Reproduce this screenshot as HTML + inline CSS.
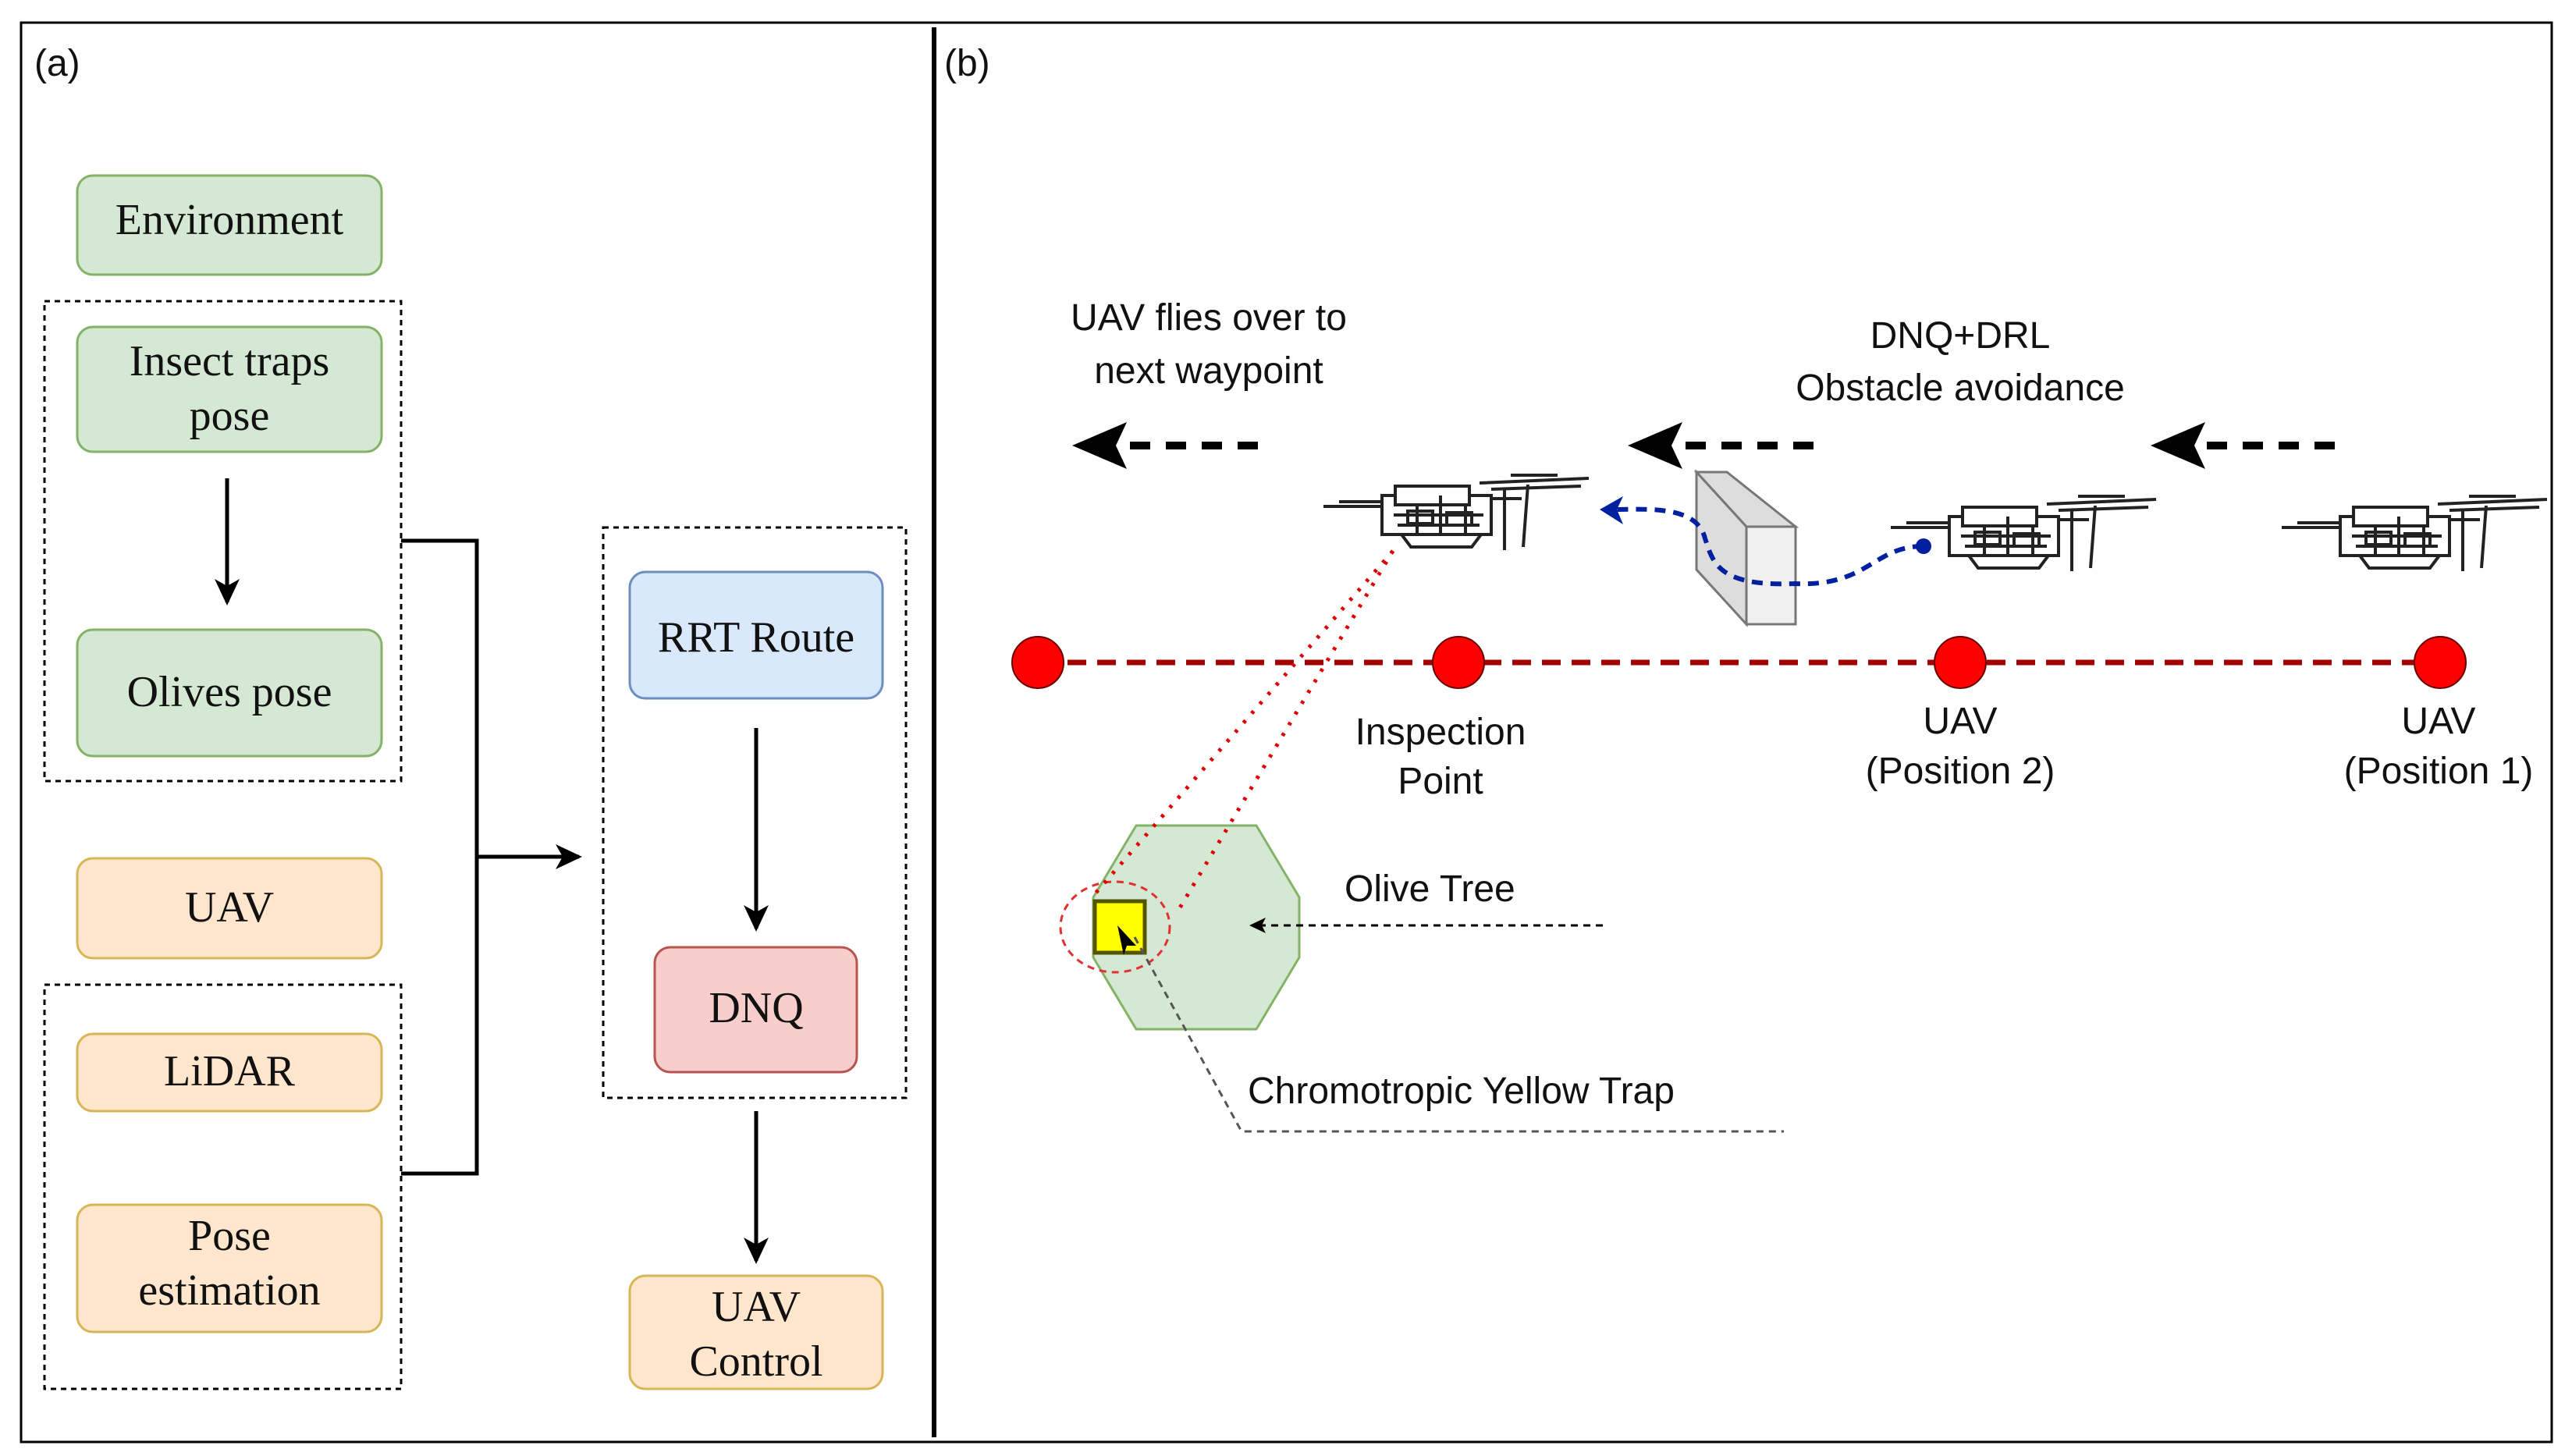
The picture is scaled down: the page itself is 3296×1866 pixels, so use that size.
<!DOCTYPE html>
<html><head><meta charset="utf-8"><style>
html,body{margin:0;padding:0;background:#fff;}
svg{display:block;}
.s{font-family:"Liberation Serif",serif;font-size:56px;fill:#111;}
.a{font-family:"Liberation Sans",sans-serif;font-size:48px;fill:#111;}
</style></head><body>
<svg width="3296" height="1866" viewBox="0 0 3296 1866" xmlns="http://www.w3.org/2000/svg">
<defs>
<marker id="ah" markerWidth="36" markerHeight="36" refX="30" refY="18" orient="auto" markerUnits="userSpaceOnUse" viewBox="0 0 36 36"><path d="M0,2 L34,18 L0,34 L9,18 z" fill="#000"/></marker>
<g id="drone" fill="none" stroke="#222" stroke-width="4">
 <path d="M0,44 L80,44 M20,38 L85,38"/>
 <path d="M200,14 L340,8 M215,22 L330,18 M240,4 L300,4"/>
 <rect x="75" y="30" width="140" height="50" fill="#fff"/>
 <rect x="92" y="18" width="95" height="24" fill="#fff"/>
 <path d="M100,80 L112,96 L190,96 L202,80 M150,30 L150,80 M120,42 L120,80 M182,42 L182,80 M232,22 L232,100 M262,16 L256,96 M214,34 L254,34 M90,55 L205,55 M95,68 L200,68"/>
 <rect x="108" y="50" width="32" height="16"/>
 <rect x="158" y="52" width="32" height="16"/>
</g>
</defs>
<rect x="27" y="29" width="3243" height="1819" fill="none" stroke="#000" stroke-width="3"/>
<line x1="1197" y1="35" x2="1197" y2="1842" stroke="#000" stroke-width="6"/>
<text x="44" y="97" class="a" font-size="58">(a)</text>
<text x="1210" y="97" class="a" font-size="58">(b)</text>

<g stroke-width="3">
<rect x="57" y="386" width="457" height="615" fill="none" stroke="#000" stroke-dasharray="7,6"/>
<rect x="57" y="1262" width="457" height="518" fill="none" stroke="#000" stroke-dasharray="7,6"/>
<rect x="773" y="676" width="388" height="731" fill="none" stroke="#000" stroke-dasharray="7,6"/>
<rect x="99" y="225" width="390" height="127" rx="20" fill="#d5e8d4" stroke="#82b366"/>
<rect x="99" y="419" width="390" height="160" rx="20" fill="#d5e8d4" stroke="#82b366"/>
<rect x="99" y="807" width="390" height="162" rx="20" fill="#d5e8d4" stroke="#82b366"/>
<rect x="99" y="1100" width="390" height="128" rx="20" fill="#ffe6cc" stroke="#d6b656"/>
<rect x="99" y="1325" width="390" height="99" rx="20" fill="#ffe6cc" stroke="#d6b656"/>
<rect x="99" y="1544" width="390" height="163" rx="20" fill="#ffe6cc" stroke="#d6b656"/>
<rect x="807" y="733" width="324" height="162" rx="20" fill="#dae8fc" stroke="#6c8ebf"/>
<rect x="839" y="1214" width="259" height="160" rx="20" fill="#f8cecc" stroke="#b85450"/>
<rect x="807" y="1635" width="324" height="145" rx="20" fill="#ffe6cc" stroke="#d6b656"/>
</g>
<g text-anchor="middle">
<text x="294" y="300" class="s">Environment</text>
<text x="294" y="481" class="s">Insect traps</text>
<text x="294" y="551" class="s">pose</text>
<text x="294" y="905" class="s">Olives pose</text>
<text x="294" y="1181" class="s">UAV</text>
<text x="294" y="1391" class="s">LiDAR</text>
<text x="294" y="1602" class="s">Pose</text>
<text x="294" y="1672" class="s">estimation</text>
<text x="969" y="835" class="s">RRT Route</text>
<text x="969" y="1310" class="s">DNQ</text>
<text x="969" y="1693" class="s">UAV</text>
<text x="969" y="1763" class="s">Control</text>
</g>
<g stroke="#000" stroke-width="5" fill="none">
<line x1="291" y1="613" x2="291" y2="772" marker-end="url(#ah)"/>
<polyline points="514,693 611,693 611,1504 514,1504"/>
<line x1="611" y1="1098" x2="742" y2="1098" marker-end="url(#ah)"/>
<line x1="969" y1="933" x2="969" y2="1190" marker-end="url(#ah)"/>
<line x1="969" y1="1424" x2="969" y2="1616" marker-end="url(#ah)"/>
</g>

<g text-anchor="middle">
<text x="1549" y="423" class="a">UAV flies over to</text>
<text x="1549" y="491" class="a">next waypoint</text>
<text x="2512" y="446" class="a">DNQ+DRL</text>
<text x="2512" y="513" class="a">Obstacle avoidance</text>
<text x="1846" y="954" class="a">Inspection</text>
<text x="1846" y="1017" class="a">Point</text>
<text x="2512" y="940" class="a">UAV</text>
<text x="2512" y="1004" class="a">(Position 2)</text>
<text x="3125" y="940" class="a">UAV</text>
<text x="3125" y="1004" class="a">(Position 1)</text>
</g>
<text x="1723" y="1155" class="a">Olive Tree</text>
<text x="1599" y="1414" class="a">Chromotropic Yellow Trap</text>

<g stroke="#000" stroke-width="10" stroke-dasharray="26,20">
<line x1="1612" y1="571" x2="1410" y2="571"/>
<line x1="2324" y1="571" x2="2122" y2="571"/>
<line x1="2992" y1="571" x2="2792" y2="571"/>
</g>
<g fill="#000">
<path d="M1374,571 L1444,541 L1430,571 L1444,601 z"/>
<path d="M2086,571 L2156,541 L2142,571 L2156,601 z"/>
<path d="M2756,571 L2826,541 L2812,571 L2826,601 z"/>
</g>

<line x1="1330" y1="849" x2="3127" y2="849" stroke="#a50000" stroke-width="7" stroke-dasharray="24,14"/>
<g fill="#f00" stroke="#600" stroke-width="2">
<circle cx="1330" cy="849" r="33"/><circle cx="1869" cy="849" r="33"/>
<circle cx="2512" cy="849" r="33"/><circle cx="3127" cy="849" r="33"/>
</g>

<polygon points="1456,1058 1610,1058 1665,1150 1665,1227 1610,1319 1456,1319 1401,1227 1401,1150" fill="#d5e8d4" stroke="#82b366" stroke-width="3"/>
<rect x="1403" y="1155" width="64" height="66" fill="#ffff00" stroke="#555500" stroke-width="5"/>
<path d="M1432,1186 L1456,1212 L1444,1212 L1440,1224 z" fill="#000"/>
<ellipse cx="1429" cy="1188" rx="70" ry="58" fill="none" stroke="#e03030" stroke-width="3" stroke-dasharray="9,7"/>
<g stroke="#e00000" stroke-width="5" stroke-dasharray="4,12">
<line x1="1785" y1="706" x2="1401" y2="1148"/>
<line x1="1785" y1="706" x2="1508" y2="1170"/>
</g>
<line x1="2054" y1="1186" x2="1615" y2="1186" stroke="#000" stroke-width="3" stroke-dasharray="9,7"/>
<path d="M1601,1186 L1622,1176 L1617,1186 L1622,1196 z" fill="#000"/>
<polyline points="1454,1201 1591,1450 2286,1450" fill="none" stroke="#555" stroke-width="3" stroke-dasharray="9,7"/>

<polygon points="2174,605 2213,605 2301,675 2238,675" fill="#ddd" stroke="#777" stroke-width="3"/>
<polygon points="2174,605 2238,675 2238,800 2174,730" fill="#ddd" stroke="#777" stroke-width="3"/>
<rect x="2238" y="675" width="63" height="125" fill="#f0f0f0" stroke="#777" stroke-width="3"/>
<path d="M2465,700 C2400,700 2395,752 2300,748 C2200,752 2195,720 2185,690 C2175,650 2120,652 2070,653" fill="none" stroke="#0020a0" stroke-width="6" stroke-dasharray="14,10"/>
<circle cx="2465" cy="700" r="10" fill="#0020a0"/>
<path d="M2050,653 L2080,636 L2072,653 L2080,672 z" fill="#0020a0"/>

<use href="#drone" transform="translate(1696,605)"/>
<use href="#drone" transform="translate(2423,632)"/>
<use href="#drone" transform="translate(2924,632)"/>
</svg>
</body></html>
